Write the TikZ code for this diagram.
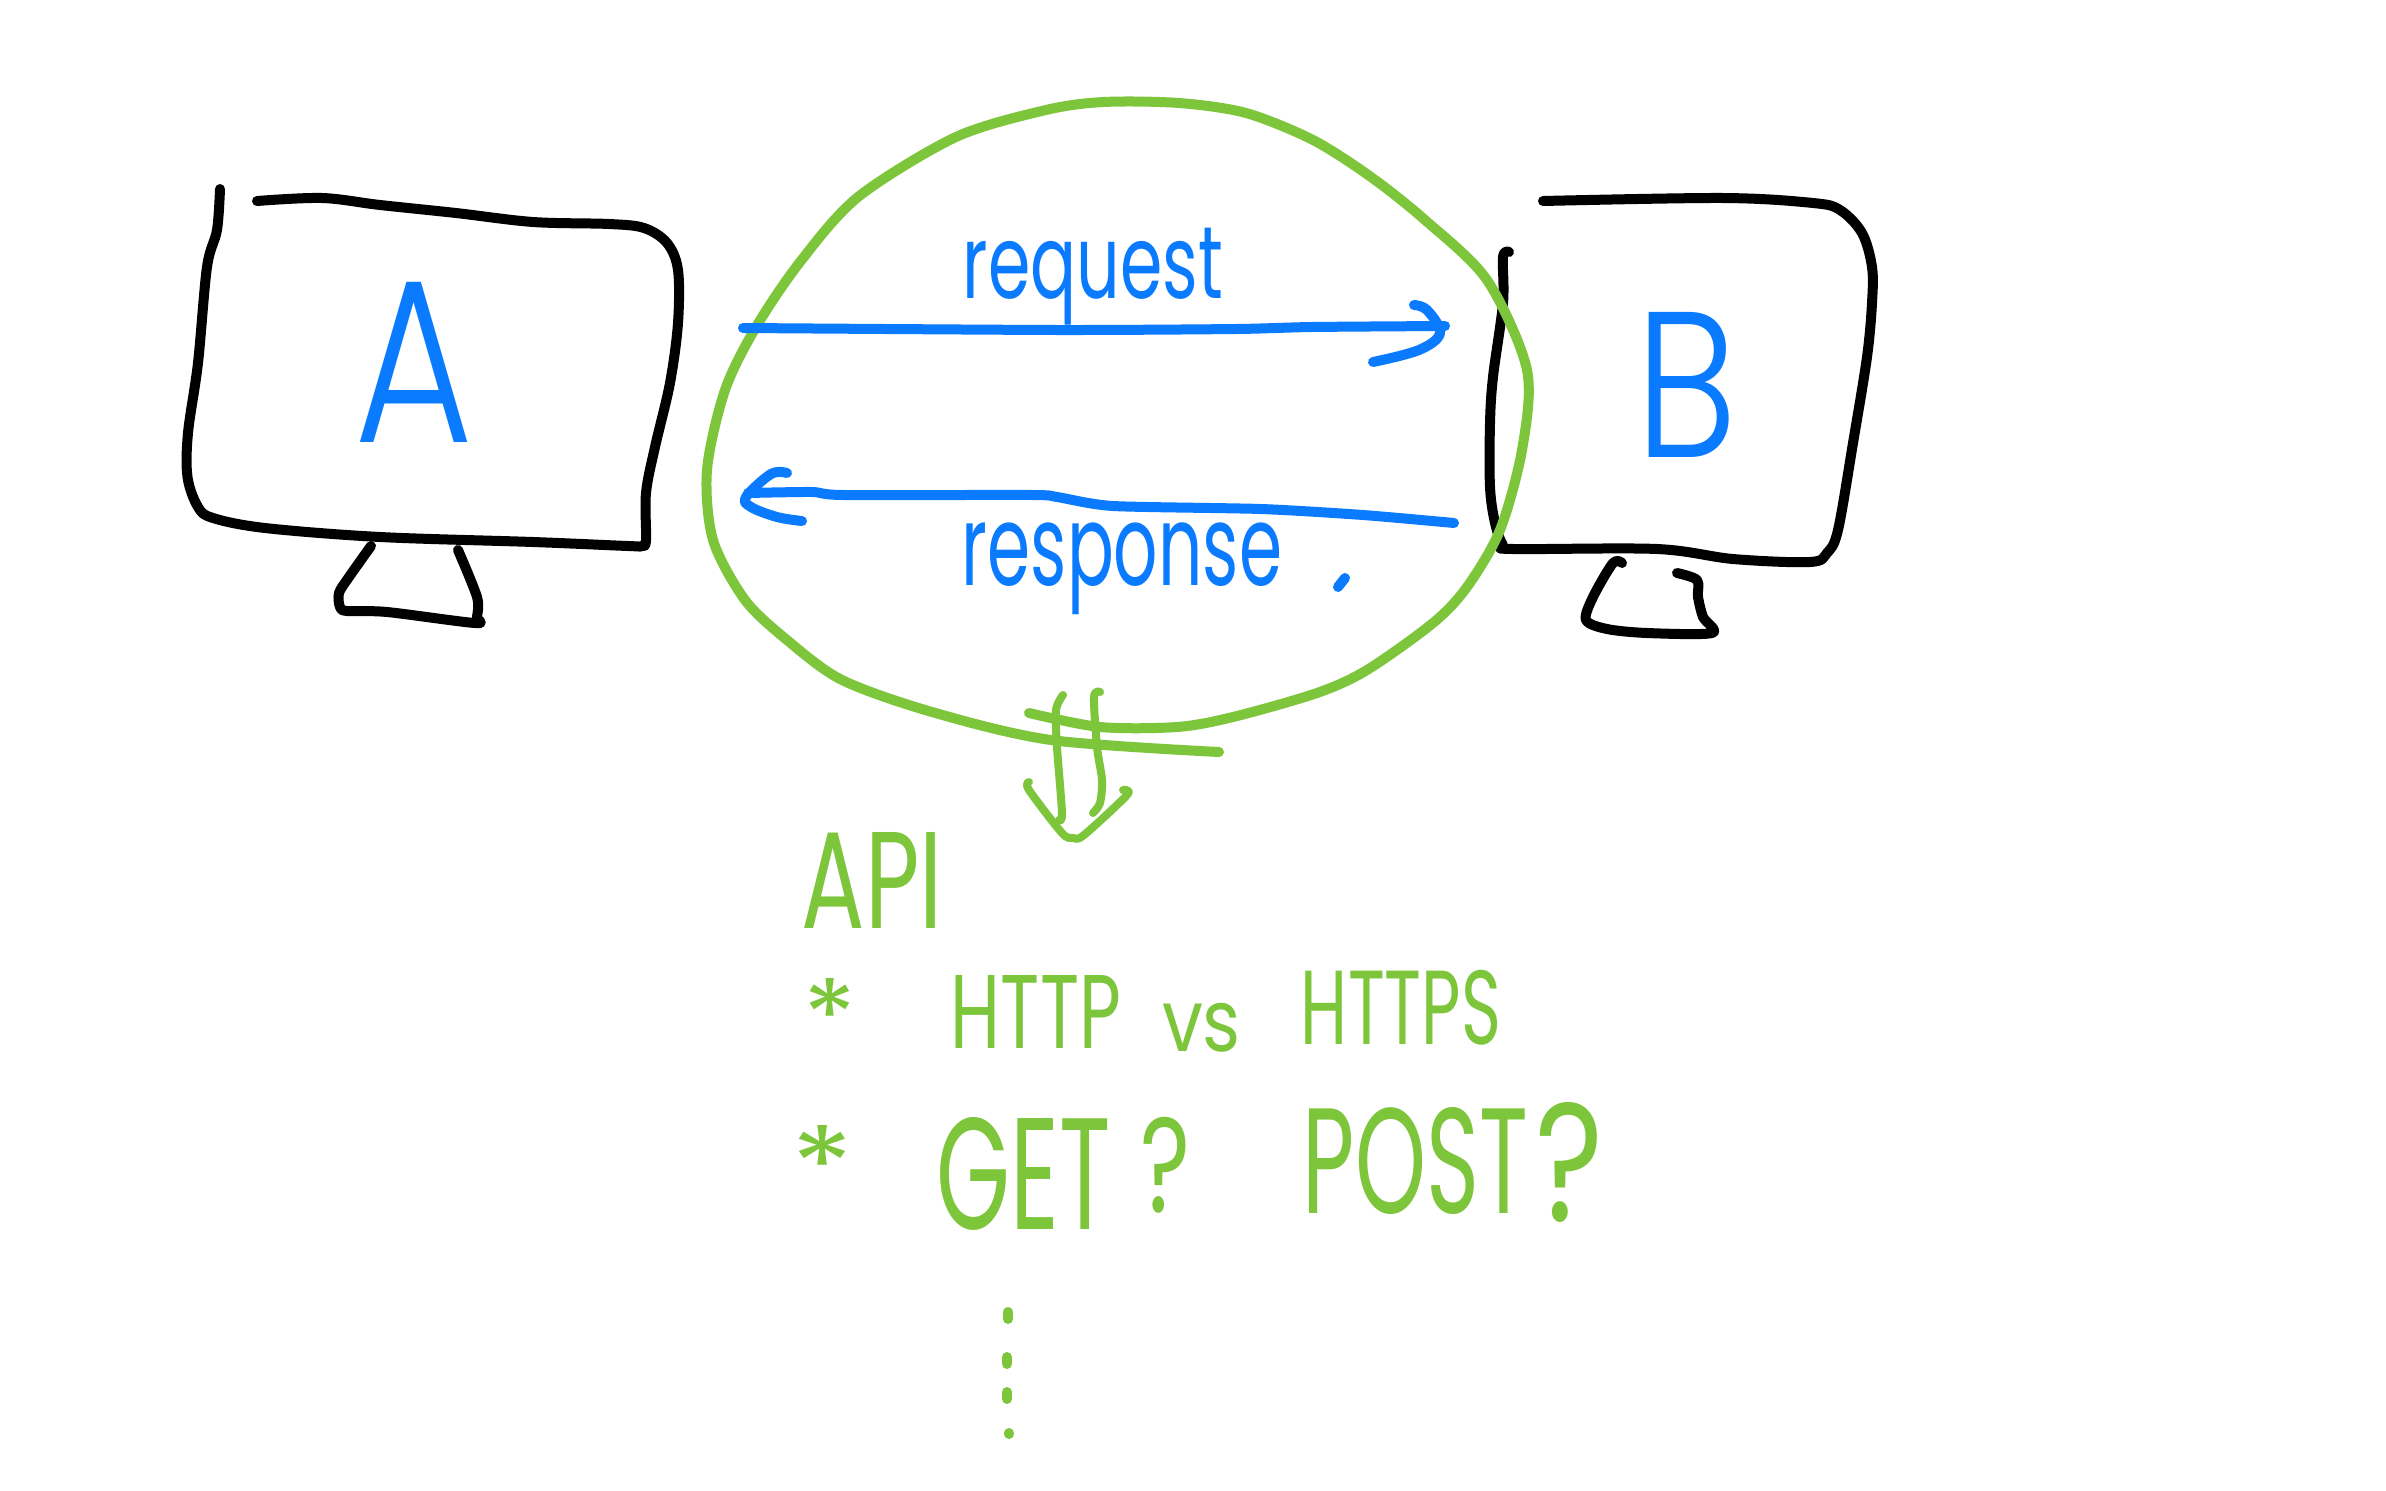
\documentclass[tikz,border=0pt]{standalone}
\usepackage{fontspec}
\usepackage{graphicx}
\newfontfamily\handreg{Poppins}
\newfontfamily\handlight{Poppins Light}
\definecolor{penblue}{HTML}{0A7AFF}
\definecolor{pengreen}{HTML}{7DC63B}
\tikzset{
  handpen/.style={line width=10pt,line cap=round,line join=round},
  blackpen/.style={handpen,black},
  bluepen/.style={handpen,penblue},
  greenpen/.style={handpen,pengreen},
  script/.style={inner sep=0pt,outer sep=0pt}
}
% name, colour, font, x1, y1, x2, y2, text
\newcommand\handtext[8]{%
  \pgfmathsetmacro\hw{#6-#4}\pgfmathsetmacro\hh{#7-#5}%
  \pgfmathsetmacro\hx{(#4+#6)/2}\pgfmathsetmacro\hy{(#5+#7)/2}%
  \node[script,text=#2] (#1) at (\hx,\hy) {\resizebox*{\hw pt}{\hh pt}{#3{}#8}};}
\begin{document}
\begin{tikzpicture}[x=1pt,y=-1pt]
\useasboundingbox (0,0) rectangle (2386,1491);
\fill[white] (0,0) rectangle (2386,1491);
% monitor A
\draw[blackpen] plot[smooth,tension=0.55] coordinates {(220,189) (217,230) (207,267) (198,363) (188,433) (187.5,477) (198,507) (213,518) (265,528) (380,537) (533,542) (628,546) (642,546) (646,540) (646,493) (655,447) (670,383) (678,323) (678,270) (667,243) (644,228) (609,224) (533,222) (456,213) (380,205) (322,198) (257,201)};
\draw[blackpen] plot[smooth,tension=0.5] coordinates {(371,546) (349,577) (339,593) (340,607) (347,611) (387,612) (475,623) (477,617) (477,597) (458,550)};
% monitor B
\draw[blackpen] plot[smooth,tension=0.55] coordinates {(1509,252) (1503,257) (1503,303) (1493,377) (1490,423) (1490,487) (1495,523) (1503,545) (1513,549) (1657,549) (1733,559) (1810,562) (1827,553) (1838,530) (1853,443) (1867,357) (1872,303) (1872,267) (1862,233) (1840,210) (1813,203) (1723,198) (1543,201)};
\draw[blackpen] plot[smooth,tension=0.5] coordinates {(1622,563) (1613,563) (1593,597) (1586,620) (1607,629) (1647,633) (1712,633) (1703,617) (1698,597) (1697,580) (1677,573)};
% circle round the exchange
\coordinate (loopstart) at (1029,713);
\coordinate (loopend) at (1219,752);
\draw[greenpen] plot[smooth,tension=0.5] coordinates {(loopstart) (1100,727) (1177,727) (1233,717) (1317,693) (1367,670) (1433,623) (1467,587) (1500,530) (1522,450) (1527,370) (1487,280) (1425,220) (1371,177) (1313,140) (1246,113) (1179,103) (1104,102) (1046,110) (956,137) (858,197) (800,262) (756,327) (725,390) (707,470) (713,540) (745,600) (787,640) (842,680) (932,712) (1051,740) (loopend)};
% request / response arrows
\coordinate (reqtail) at (743,328);
\coordinate (reqtip) at (1445,326);
\coordinate (restail) at (1454,523);
\coordinate (restip) at (748,493);
\draw[bluepen] plot[smooth,tension=0.4] coordinates {(reqtail) (1057,330) (1236,329) (1312,327) (reqtip)};
\draw[bluepen] plot[smooth,tension=0.6] coordinates {(1414,305) (1427,310) (1440,333) (1419,350) (1373,362)};
\draw[bluepen] plot[smooth,tension=0.4] coordinates {(restail) (1363,515) (1261,509) (1113,506) (1057,497) (1032,495) (843,495) (812,492) (restip)};
\draw[bluepen] plot[smooth,tension=0.6] coordinates {(787,473) (771,474) (746,497) (751,507) (777,517) (802,521)};
\draw[bluepen] (1345,578) -- (1338,587);
% double down arrow
\draw[greenpen,line width=8pt] plot[smooth,tension=0.5] coordinates {(1063,695) (1056,710) (1057,747) (1062,813) (1059,820)};
\draw[greenpen,line width=8pt] plot[smooth,tension=0.5] coordinates {(1100,692) (1094,697) (1097,747) (1102,780) (1100,803) (1093,813)};
\draw[greenpen,line width=8pt] plot[smooth,tension=0.5] coordinates {(1029,782) (1029,790) (1062,833) (1073,838) (1084,835) (1127,795) (1123,790)};
% texts
\handtext{lblA}{penblue}{\handlight}{355}{282}{474}{442}{A}
\handtext{lblB}{penblue}{\handlight}{1635}{312}{1737}{457}{B}
\handtext{lblreq}{penblue}{\handreg}{963}{228}{1223}{325}{request}
\handtext{lblres}{penblue}{\handreg}{962}{523}{1282}{615}{response}
\handtext{lblapi}{pengreen}{\handreg}{802}{832}{943}{928}{API}
\handtext{stara}{pengreen}{\handreg}{803}{978}{856}{1052}{*}
\handtext{lblhttp}{pengreen}{\handreg}{951}{975}{1121}{1048}{HTTP}
\handtext{lblvs}{pengreen}{\handreg}{1162}{1003}{1241}{1052}{vs}
\handtext{lblhttps}{pengreen}{\handreg}{1301}{970}{1501}{1045}{HTTPS}
\handtext{starb}{pengreen}{\handreg}{791}{1125}{853}{1203}{*}
\handtext{lblget}{pengreen}{\handreg}{937}{1117}{1111}{1230}{GET}
\handtext{qa}{pengreen}{\handreg}{1140}{1117}{1190}{1213}{?}
\handtext{lblpost}{pengreen}{\handreg}{1303}{1108}{1528}{1215}{POST}
\handtext{qb}{pengreen}{\handreg}{1536}{1102}{1604}{1222}{?}
% vertical dots
\draw[greenpen] (1008,1312) -- (1008,1319);
\draw[greenpen] (1007,1357) -- (1007,1364);
\draw[greenpen] (1007,1392) -- (1007,1399);
\draw[greenpen] (1009,1433) -- (1009,1434);
\end{tikzpicture}
\end{document}
